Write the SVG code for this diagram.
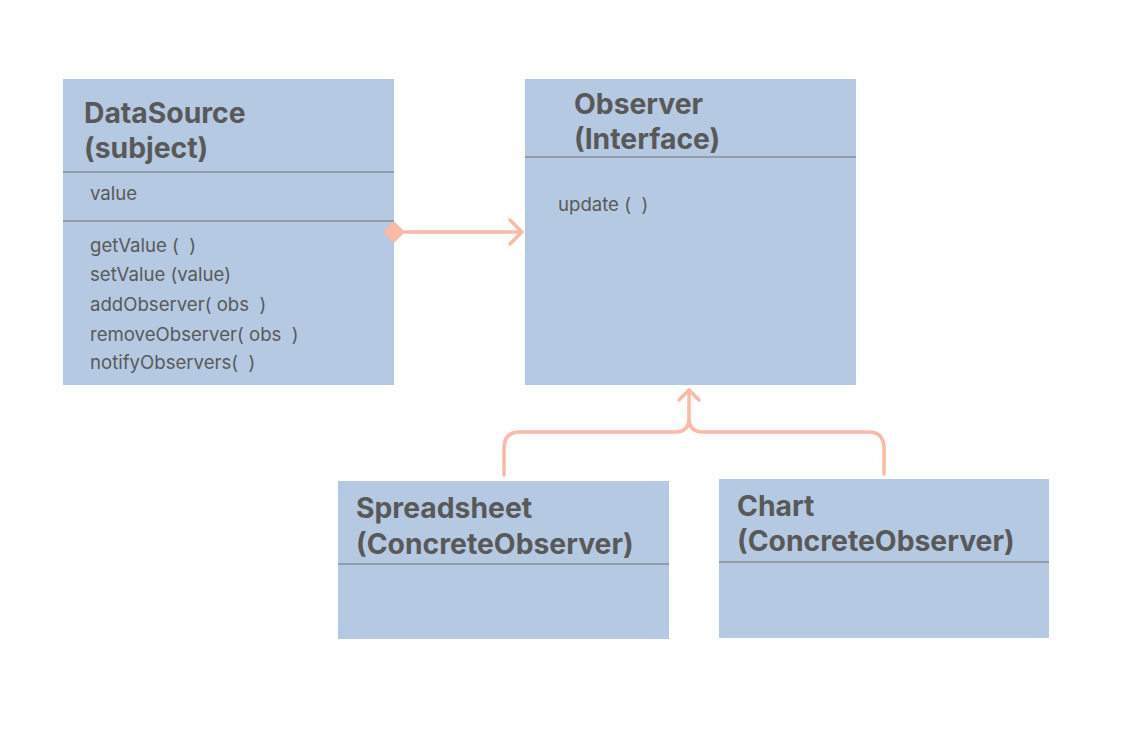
<svg xmlns="http://www.w3.org/2000/svg" width="1134" height="732" viewBox="0 0 1134 732">
<style>
.box{fill:#b6c9e2}
.div{stroke:#707070;stroke-width:1.2}
.title{font-family:Inter,"Liberation Sans",sans-serif;font-weight:700;font-size:28.3px;fill:#595959}
.item{font-family:Inter,"Liberation Sans",sans-serif;font-size:18.6px;fill:#595959}
.conn{fill:none;stroke:#fbbaa8;stroke-width:3.5;stroke-linecap:round;stroke-linejoin:round}
</style>
<rect width="1134" height="732" fill="#ffffff"/>
<g id="datasource">
<rect class="box" x="63" y="79" width="331" height="306"/>
<text class="title" x="84" y="123">DataSource</text>
<text class="title" x="84" y="158">(subject)</text>
<line class="div" x1="63" y1="172" x2="394" y2="172"/>
<text class="item" x="90" y="200">value</text>
<line class="div" x1="63" y1="221" x2="394" y2="221"/>
<text class="item" x="90" y="252" xml:space="preserve">getValue (  )</text>
<text class="item" x="90" y="281">setValue (value)</text>
<text class="item" x="90" y="311" xml:space="preserve">addObserver( obs  )</text>
<text class="item" x="90" y="341" xml:space="preserve">removeObserver( obs  )</text>
<text class="item" x="90" y="369" xml:space="preserve">notifyObservers(  )</text>
</g>
<g id="observer">
<rect class="box" x="525" y="79" width="331" height="306"/>
<text class="title" x="574" y="114">Observer</text>
<text class="title" x="574" y="149">(Interface)</text>
<line class="div" x1="525" y1="157" x2="856" y2="157"/>
<text class="item" x="558" y="211" xml:space="preserve">update (  )</text>
</g>
<g id="spreadsheet">
<rect class="box" x="338" y="481" width="331" height="158"/>
<text class="title" x="356" y="518">Spreadsheet</text>
<text class="title" x="356" y="554">(ConcreteObserver)</text>
<line class="div" x1="338" y1="564" x2="669" y2="564"/>
</g>
<g id="chart">
<rect class="box" x="719" y="479" width="330" height="159"/>
<text class="title" x="737" y="516">Chart</text>
<text class="title" x="737" y="551">(ConcreteObserver)</text>
<line class="div" x1="719" y1="562" x2="1049" y2="562"/>
</g>
<g id="connectors">
<path class="conn" d="M404 232 H522 M510 220 L522 232 L510 244"/>
<path d="M383 232 L394 221 L405 232 L394 243 Z" fill="#fbbaa8"/>
<path class="conn" d="M689 390 V418 Q689 432 675 432 H520 Q504 432 504 448 V475"/>
<path class="conn" d="M689 418 Q689 432 703 432 H868 Q884 432 884 448 V474"/>
<path class="conn" d="M679 400 L689 390 L699 400"/>
</g>
</svg>
